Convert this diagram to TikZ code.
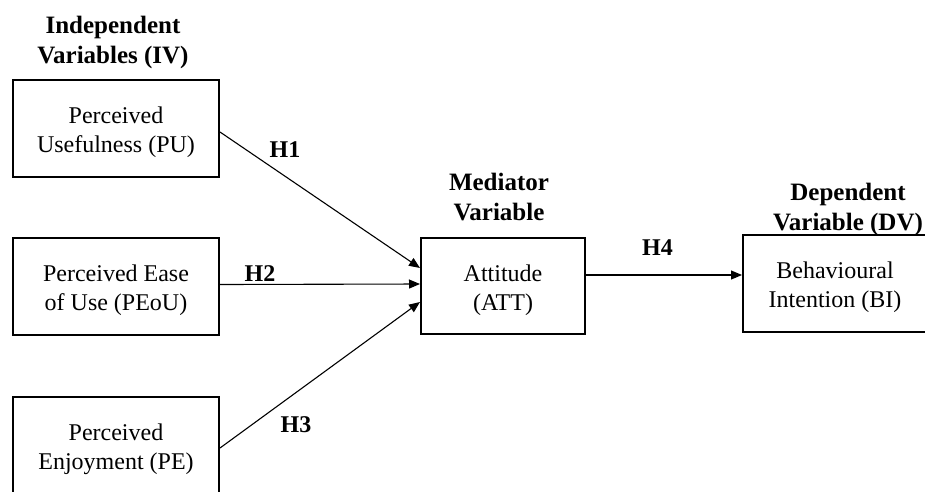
\documentclass[tikz,border=0pt]{standalone}
\usepackage{fontspec}
\setmainfont{Liberation Serif}
\usetikzlibrary{arrows.meta}
\newcommand\tstrut{\rule{0pt}{24.5pt}}
\begin{document}
\begin{tikzpicture}[x=1pt,y=-1pt,
  varbox/.style={draw, line width=2pt, inner sep=0pt, align=center,
    font=\fontsize{24}{29}\selectfont},
  heading/.style={inner sep=0pt, align=center, font=\fontsize{25}{30}\selectfont\bfseries},
  hlabel/.style={inner sep=0pt, font=\fontsize{24}{29}\selectfont\bfseries},
  link/.style={line width=1.1pt, -{Triangle[length=11pt,width=9pt]}}]
\useasboundingbox (0,0) rectangle (925,491);
% headings
\node[heading] (ivh) at (113,42) {Independent\\Variables (IV)};
\node[heading] (mvh) at (499,197.5) {Mediator\\Variable};
\node[heading] (dvh) at (848,209) {Dependent\\Variable (DV)};
% boxes
\node[varbox, minimum width=206pt, minimum height=97pt] (pu) at (116,128.5)
  {\tstrut Perceived\\Usefulness (PU)};
\node[varbox, minimum width=206pt, minimum height=97pt] (peou) at (116,286.5)
  {\tstrut Perceived Ease\\of Use (PEoU)};
\node[varbox, minimum width=206pt, minimum height=97pt] (pe) at (116,445.5)
  {\tstrut Perceived\\Enjoyment (PE)};
\node[varbox, minimum width=164pt, minimum height=96pt] (att) at (503,286)
  {\tstrut Attitude\\(ATT)};
\node[varbox, minimum width=184pt, minimum height=97pt] (bi) at (835,283.5)
  {\tstrut Behavioural\\Intention (BI)};
% connectors
\draw[link] ([yshift=-3.5pt]pu.east) -- ([yshift=18pt]att.west);
\draw[link] ([yshift=2pt]peou.east) -- ([yshift=2pt]att.west);
\draw[link] ([yshift=-2.5pt]pe.east) -- ([yshift=-16pt]att.west);
\draw[link] ([yshift=11pt]att.east) -- ([yshift=11pt]att.east -| bi.west);
% hypothesis labels
\node[hlabel] (h1) at (285,150) {H1};
\node[hlabel] (h2) at (260,273.5) {H2};
\node[hlabel] (h3) at (296,424.5) {H3};
\node[hlabel] (h4) at (657.5,248) {H4};
\end{tikzpicture}
\end{document}
